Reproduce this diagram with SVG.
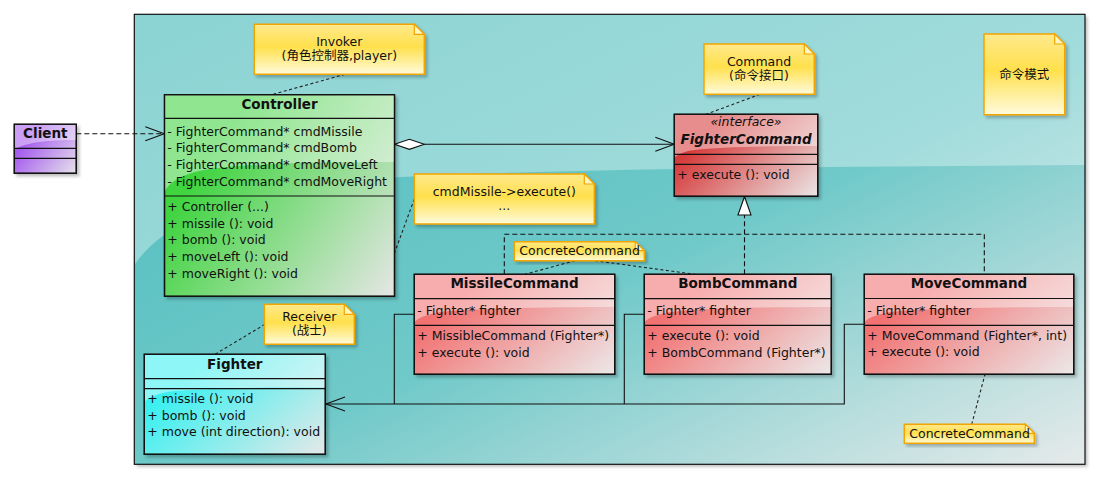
<svg xmlns="http://www.w3.org/2000/svg" width="1099" height="479" viewBox="0 0 1099 479">
<defs>
<style>
text{font-family:"DejaVu Sans","Noto Sans CJK SC",sans-serif;font-size:12.5px;fill:#111}
.h{font-weight:bold;font-size:13.5px;text-anchor:middle}
.c{text-anchor:middle}
.box{stroke:#111;stroke-width:1.3}
.sep{stroke:#111;stroke-width:1.2}
.gloss{fill:#fff;opacity:0.42}
.note{fill:url(#gNote);stroke:#f2a500;stroke-width:1.5}
.fold{fill:#fff6c0;stroke:#f2a500;stroke-width:1.2}
.ln{fill:none;stroke:#111;stroke-width:1.1}
.dash{fill:none;stroke:#111;stroke-width:1.1;stroke-dasharray:5,3}
.dot{fill:none;stroke:#222;stroke-width:1.1;stroke-dasharray:3,2.5}
.hollow{fill:#fff;stroke:#111;stroke-width:1.1}
</style>
<filter id="sh" x="-10%" y="-10%" width="130%" height="130%">
<feDropShadow dx="2.5" dy="2.5" stdDeviation="1.8" flood-color="#000" flood-opacity="0.25"/>
</filter>
<linearGradient id="gBg" x1="0" y1="0" x2="1" y2="1">
<stop offset="0" stop-color="#4dbcbc"/>
<stop offset="0.55" stop-color="#70c9c9"/>
<stop offset="1" stop-color="#e6eaea"/>
</linearGradient>
<linearGradient id="gGreen" x1="0.1" y1="0.45" x2="1" y2="1">
<stop offset="0" stop-color="#3fd43f"/>
<stop offset="1" stop-color="#e6e6e6"/>
</linearGradient>
<linearGradient id="gPurple" x1="0.1" y1="0.45" x2="1" y2="1">
<stop offset="0" stop-color="#a45aee"/>
<stop offset="1" stop-color="#e6e2ea"/>
</linearGradient>
<linearGradient id="gRed" x1="0.1" y1="0.45" x2="1" y2="1">
<stop offset="0" stop-color="#d63a3a"/>
<stop offset="1" stop-color="#ebe6e6"/>
</linearGradient>
<linearGradient id="gPink" x1="0.1" y1="0.45" x2="1" y2="1">
<stop offset="0" stop-color="#f27272"/>
<stop offset="1" stop-color="#ece8e8"/>
</linearGradient>
<linearGradient id="gCyan" x1="0.1" y1="0.45" x2="1" y2="1">
<stop offset="0" stop-color="#3ef0f0"/>
<stop offset="1" stop-color="#e6e8e8"/>
</linearGradient>
<linearGradient id="gNote" x1="0" y1="0" x2="0" y2="1">
<stop offset="0" stop-color="#ffe98c"/>
<stop offset="0.45" stop-color="#ffe04c"/>
<stop offset="1" stop-color="#fffbdc"/>
</linearGradient>
<marker id="open" markerUnits="userSpaceOnUse" markerWidth="30" markerHeight="30" refX="0" refY="0" orient="auto" overflow="visible">
<path d="M-19,-7 L0,0 L-19,7" fill="none" stroke="#111" stroke-width="1.1"/>
</marker>
</defs>

<g id="frame">
<rect x="134.3" y="14.3" width="950.7" height="450" fill="url(#gBg)" filter="url(#sh)"/>
<path d="M134.3,14.3 H1085 V165 C900,166 600,168 420,176 C280,183 175,205 134.3,265 Z" fill="#fff" opacity="0.35"/>
<rect x="134.3" y="14.3" width="950.7" height="450" fill="none" stroke="#111" stroke-width="1.2"/>
</g>

<g id="connectors">
<path class="dash" d="M76.3,133.7 H164.3" marker-end="url(#open)"/>
<path class="ln" d="M424.3,144.3 H674.3" marker-end="url(#open)"/>
<polygon class="hollow" points="394.5,144.3 409.4,139.3 424.3,144.3 409.4,149.3"/>
<path class="dash" d="M504.3,274.3 V234.3 H984.3 V274.3 M744.5,274.3 V215"/>
<polygon class="hollow" points="744.5,196.5 751,215 738,215"/>
<path class="ln" d="M414.3,314.3 H394.3 V404 M644.3,314.3 H624.3 V404"/>
<path class="ln" d="M864.3,324.3 H844.3 V404 H326" marker-end="url(#open)"/>
<path class="dot" d="M345,74.3 L271.7,94.7"/>
<path class="dot" d="M760,94.3 L706,114.3"/>
<path class="dot" d="M414.3,199 L394.5,253"/>
<path class="dot" d="M265,324.3 L215,354.3"/>
<path class="dot" d="M575,260.7 L525,274.3 M595,260.7 L695,274.3"/>
<path class="dot" d="M971.7,424.3 L985,374.3"/>
</g>

<g id="client">
<rect class="box" x="14.3" y="124.3" width="62" height="49" fill="url(#gPurple)" filter="url(#sh)"/>
<path class="gloss" d="M14.3,124.3 H76.3 V140 C50,140 25,142 14.3,150 Z"/>
<rect class="box" x="14.3" y="124.3" width="62" height="49" fill="none"/>
<path class="sep" d="M14.3,148.3 H76.3 M14.3,158.3 H76.3"/>
<text class="h" x="45.3" y="138.3">Client</text>
</g>

<g id="controller">
<rect class="box" x="164.5" y="94.7" width="230" height="201.6" fill="url(#gGreen)" filter="url(#sh)"/>
<path class="gloss" d="M164.5,94.7 H394.5 V162 C300,162 230,164 195,172 C180,176 168,183 164.5,192 Z"/>
<rect class="box" x="164.5" y="94.7" width="230" height="201.6" fill="none"/>
<path class="sep" d="M164.5,118.3 H394.5 M164.5,196 H394.5"/>
<text class="h" x="279.5" y="108.6">Controller</text>
<text x="167.3" y="135.5">- FighterCommand* cmdMissile</text>
<text x="167.3" y="152.3">- FighterCommand* cmdBomb</text>
<text x="167.3" y="169.3">- FighterCommand* cmdMoveLeft</text>
<text x="167.3" y="186.3">- FighterCommand* cmdMoveRight</text>
<text x="167.3" y="210.5">+ Controller (...)</text>
<text x="167.3" y="227.5">+ missile (): void</text>
<text x="167.3" y="244.3">+ bomb (): void</text>
<text x="167.3" y="261.2">+ moveLeft (): void</text>
<text x="167.3" y="278">+ moveRight (): void</text>
</g>

<g id="fighterCommand">
<rect class="box" x="674.3" y="114.3" width="143.4" height="82" fill="url(#gRed)" filter="url(#sh)"/>
<path class="gloss" d="M674.3,114.3 H817.7 V146 C770,146 720,147 695,150 C685,151 678,154 674.3,158 Z"/>
<rect class="box" x="674.3" y="114.3" width="143.4" height="82" fill="none"/>
<path class="sep" d="M674.3,154.3 H817.7 M674.3,164.3 H817.7"/>
<text class="c" x="746" y="126.2" font-style="italic">«interface»</text>
<text class="h" x="746" y="144.2" font-style="italic">FighterCommand</text>
<text x="677.3" y="178.8">+ execute (): void</text>
</g>

<g id="missileCommand">
<rect class="box" x="414.3" y="274.3" width="200.4" height="100" fill="url(#gPink)" filter="url(#sh)"/>
<path class="gloss" d="M414.3,274.3 H614.7 V307 C560,307 490,308 450,311 C430,313 419,317 414.3,322 Z"/>
<rect class="box" x="414.3" y="274.3" width="200.4" height="100" fill="none"/>
<path class="sep" d="M414.3,298.7 H614.7 M414.3,325.3 H614.7"/>
<text class="h" x="514.5" y="288.2">MissileCommand</text>
<text x="417.3" y="315.2">- Fighter* fighter</text>
<text x="417.3" y="339.5">+ MissibleCommand (Fighter*)</text>
<text x="417.3" y="356.5">+ execute (): void</text>
</g>

<g id="bombCommand">
<rect class="box" x="644.3" y="274.3" width="187" height="100" fill="url(#gPink)" filter="url(#sh)"/>
<path class="gloss" d="M644.3,274.3 H831.3 V307 C780,307 715,308 680,311 C660,313 649,317 644.3,322 Z"/>
<rect class="box" x="644.3" y="274.3" width="187" height="100" fill="none"/>
<path class="sep" d="M644.3,298.7 H831.3 M644.3,325.3 H831.3"/>
<text class="h" x="737.8" y="288.2">BombCommand</text>
<text x="647.3" y="315.2">- Fighter* fighter</text>
<text x="647.3" y="339.5">+ execute (): void</text>
<text x="647.3" y="356.5">+ BombCommand (Fighter*)</text>
</g>

<g id="moveCommand">
<rect class="box" x="864.3" y="274.3" width="209.4" height="100" fill="url(#gPink)" filter="url(#sh)"/>
<path class="gloss" d="M864.3,274.3 H1073.7 V307 C1015,307 945,308 900,311 C880,313 869,317 864.3,322 Z"/>
<rect class="box" x="864.3" y="274.3" width="209.4" height="100" fill="none"/>
<path class="sep" d="M864.3,298.5 H1073.7 M864.3,325.3 H1073.7"/>
<text class="h" x="969" y="288.2">MoveCommand</text>
<text x="867.3" y="315.2">- Fighter* fighter</text>
<text x="867.3" y="339.5">+ MoveCommand (Fighter*, int)</text>
<text x="867.3" y="356.3">+ execute (): void</text>
</g>

<g id="fighter">
<rect class="box" x="144.3" y="354.3" width="181" height="100" fill="url(#gCyan)" filter="url(#sh)"/>
<path class="gloss" d="M144.3,354.3 H325.3 V387 C275,387 210,388 175,391 C158,393 149,397 144.3,402 Z"/>
<rect class="box" x="144.3" y="354.3" width="181" height="100" fill="none"/>
<path class="sep" d="M144.3,378.7 H325.3 M144.3,388.7 H325.3"/>
<text class="h" x="234.8" y="368.6">Fighter</text>
<text x="147.3" y="402.8">+ missile (): void</text>
<text x="147.3" y="419.5">+ bomb (): void</text>
<text x="147.3" y="436.2">+ move (int direction): void</text>
</g>

<g id="noteInvoker">
<path class="note" d="M254.3,24.3 H414.3 L424.3,34.3 V74.3 H254.3 Z" filter="url(#sh)"/>
<path class="fold" d="M414.3,24.3 V34.3 H424.3 Z"/>
<text class="c" x="339.3" y="46.2">Invoker</text>
<text class="c" x="339.3" y="60.2">(角色控制器,player)</text>
</g>

<g id="noteCommand">
<path class="note" d="M704,44 H804.3 L814.3,54 V94.3 H704 Z" filter="url(#sh)"/>
<path class="fold" d="M804.3,44 V54 H814.3 Z"/>
<text class="c" x="759" y="66.2">Command</text>
<text class="c" x="759" y="80.2">(命令接口)</text>
</g>

<g id="notePattern">
<path class="note" d="M984,34 H1054.7 L1064.7,44 V114.7 H984 Z" filter="url(#sh)"/>
<path class="fold" d="M1054.7,34 V44 H1064.7 Z"/>
<text class="c" x="1024.3" y="78.5">命令模式</text>
</g>

<g id="noteExecute">
<path class="note" d="M414.3,174 H584.3 L594.3,184 V224 H414.3 Z" filter="url(#sh)"/>
<path class="fold" d="M584.3,174 V184 H594.3 Z"/>
<text class="c" x="504.3" y="195.5">cmdMissile-&gt;execute()</text>
<text class="c" x="504.3" y="209.5">...</text>
</g>

<g id="noteReceiver">
<path class="note" d="M264.3,304.3 H344.3 L354.3,314.3 V344.3 H264.3 Z" filter="url(#sh)"/>
<path class="fold" d="M344.3,304.3 V314.3 H354.3 Z"/>
<text class="c" x="309.3" y="321.2">Receiver</text>
<text class="c" x="309.3" y="335.2">(战士)</text>
</g>

<g id="noteConcrete1">
<path class="note" d="M514.3,241.7 H635.3 L644.3,250.7 V260.7 H514.3 Z" filter="url(#sh)"/>
<path class="fold" d="M635.3,241.7 V250.7 H644.3 Z"/>
<text x="519.3" y="255">ConcreteCommand</text>
</g>

<g id="noteConcrete2">
<path class="note" d="M904.3,424.3 H1025.3 L1034.3,433.3 V443.3 H904.3 Z" filter="url(#sh)"/>
<path class="fold" d="M1025.3,424.3 V433.3 H1034.3 Z"/>
<text x="909.3" y="438">ConcreteCommand</text>
</g>
</svg>
